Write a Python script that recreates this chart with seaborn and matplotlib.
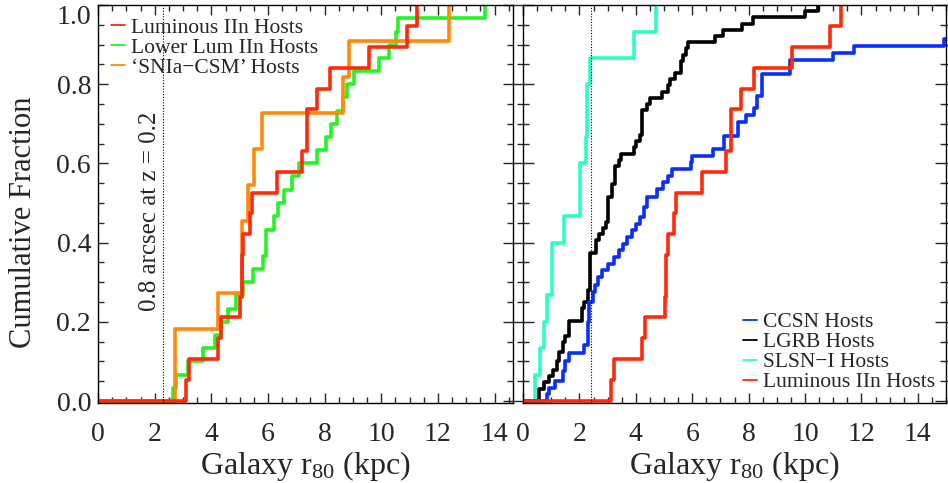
import matplotlib
matplotlib.use("Agg")
import matplotlib.pyplot as plt
from matplotlib.lines import Line2D
from matplotlib.ticker import MultipleLocator
import seaborn as sns

# Cumulative host-size distributions:
# r80 position (kpc) of each step and the cumulative fraction reached there
lum_iin_r80 = [3.11, 3.21, 4.23, 4.33, 5.02, 5.08, 5.13, 5.35, 5.44, 6.33, 7.19, 7.37,
               7.73, 8.20, 9.55, 10.89, 11.26]
lum_iin_frac = [0.053, 0.105, 0.158, 0.211, 0.263, 0.368, 0.421, 0.474, 0.526, 0.579,
                0.632, 0.737, 0.789, 0.842, 0.895, 0.947, 1.0]

low_iin_r80 = [2.64, 2.76, 3.17, 3.70, 4.14, 4.35, 4.58, 4.88, 5.11, 5.47, 5.82, 5.92,
               6.21, 6.37, 6.55, 6.85, 7.08, 7.73, 8.06, 8.24, 8.44, 8.65, 8.80, 9.02,
               9.91, 10.26, 10.51, 10.59, 13.65]
low_iin_frac = [0.033, 0.067, 0.1, 0.133, 0.167, 0.2, 0.233, 0.267, 0.3, 0.333, 0.367,
                0.433, 0.467, 0.5, 0.533, 0.567, 0.6, 0.633, 0.667, 0.7, 0.733, 0.767,
                0.8, 0.833, 0.867, 0.9, 0.933, 0.967, 1.0]

ia_csm_r80 = [2.70, 4.25, 5.07, 5.31, 5.51, 5.78, 8.65, 8.86, 12.38]
ia_csm_frac = [0.182, 0.273, 0.455, 0.545, 0.636, 0.727, 0.818, 0.909, 1.0]

slsn_r80 = [0.44, 0.61, 0.74, 0.84, 1.02, 1.44, 2.03, 2.23, 2.27, 2.37, 3.94, 4.71]
slsn_frac = [0.067, 0.133, 0.2, 0.267, 0.4, 0.467, 0.6, 0.667, 0.8, 0.867, 0.933, 1.0]

lgrb_r80 = [0.56, 0.74, 0.91, 1.05, 1.19, 1.29, 1.41, 1.50, 1.62, 2.09, 2.17, 2.29,
            2.39, 2.59, 2.70, 2.82, 2.96, 3.03, 3.15, 3.27, 3.39, 3.47, 3.94, 4.02,
            4.15, 4.23, 4.38, 4.51, 4.92, 5.15, 5.21, 5.39, 5.59, 5.67, 5.77, 5.86,
            6.80, 7.10, 7.75, 8.14, 10.01, 10.45]
lgrb_frac = [0.031, 0.047, 0.063, 0.078, 0.102, 0.125, 0.148, 0.164, 0.203, 0.234,
             0.25, 0.281, 0.375, 0.406, 0.422, 0.438, 0.453, 0.516, 0.547, 0.594,
             0.609, 0.625, 0.641, 0.656, 0.672, 0.734, 0.75, 0.766, 0.781, 0.797,
             0.813, 0.828, 0.859, 0.875, 0.891, 0.906, 0.922, 0.938, 0.953, 0.969,
             0.984, 1.0]

ccsn_r80 = [0.84, 0.91, 1.15, 1.41, 1.50, 1.62, 2.17, 2.29, 2.35, 2.47, 2.56, 2.67,
            2.80, 3.03, 3.21, 3.39, 3.55, 3.70, 3.88, 4.00, 4.14, 4.29, 4.38, 4.76,
            4.96, 5.15, 5.29, 5.94, 6.00, 6.73, 7.12, 7.61, 7.91, 8.18, 8.30, 8.47,
            9.48, 11.00, 11.74, 14.93]
ccsn_frac = [0.017, 0.033, 0.051, 0.075, 0.1, 0.121, 0.142, 0.2, 0.251, 0.276, 0.293,
             0.314, 0.33, 0.347, 0.364, 0.381, 0.397, 0.414, 0.431, 0.448, 0.465, 0.49,
             0.515, 0.536, 0.553, 0.569, 0.586, 0.603, 0.62, 0.636, 0.67, 0.705, 0.723,
             0.741, 0.771, 0.825, 0.86, 0.88, 0.896, 0.913]

# 0.8 arcsec at z = 0.2 marker (kpc) as drawn in each panel
res_limit_left = 2.30
res_limit_right = 2.42

y_ticks = [0.0, 0.2, 0.4, 0.6, 0.8, 1.0]
y_tick_labels = ["0.0", "0.2", "0.4", "0.6", "0.8", "1.0"]

RED = "#ff2a0a"
GREEN = "#22f522"
ORANGE = "#ff8a0a"
BLUE = "#0a2eff"
BLACK = "#000000"
CYAN = "#2affc6"

sns.set_style("ticks")
plt.rcParams["font.family"] = ["Liberation Serif", "DejaVu Serif"]
plt.rcParams["mathtext.fontset"] = "custom"
plt.rcParams["mathtext.rm"] = "Liberation Serif"
plt.rcParams["mathtext.it"] = "Liberation Serif"
plt.rcParams["axes.linewidth"] = 1.0


def draw_step(ax, r80, frac, color, x_end=None):
    xs = [-1.0] + list(r80)
    ys = [0.0] + list(frac)
    if x_end is not None:
        xs.append(x_end)
        ys.append(frac[-1])
    sns.lineplot(x=xs, y=ys, ax=ax, color=color, lw=2.6, drawstyle="steps-post",
                 estimator=None, sort=False, legend=False)


def style_axes(ax, xmax, inout_y=False):
    ax.set_xlim(0, xmax)
    ax.set_ylim(-0.005, 1.0)
    ax.xaxis.set_major_locator(MultipleLocator(2))
    ax.xaxis.set_minor_locator(MultipleLocator(0.5))
    ax.set_yticks(y_ticks)
    ax.yaxis.set_minor_locator(MultipleLocator(0.05))
    ax.tick_params(axis="x", which="both", direction="in", top=True, bottom=True,
                   labelsize=20, pad=14)
    ax.tick_params(axis="x", which="major", length=7, width=1)
    ax.tick_params(axis="x", which="minor", length=4, width=1)
    ydir = "inout" if inout_y else "in"
    ax.tick_params(axis="y", which="both", direction=ydir, left=True, right=True,
                   labelsize=20, pad=5)
    ax.tick_params(axis="y", which="major", length=16 if inout_y else 7, width=1)
    ax.tick_params(axis="y", which="minor", length=8 if inout_y else 4, width=1)
    ax.set_xlabel("Galaxy r$_{80}$ (kpc)", fontsize=23, labelpad=1)
    for s in ax.spines.values():
        s.set_visible(True)
        s.set_color("black")


fig = plt.figure(figsize=(9.48, 4.83), dpi=100)
ax1 = fig.add_axes([0.1034, 0.1656, 0.4378, 0.824])
ax2 = fig.add_axes([0.5517, 0.1656, 0.4462, 0.824])

# left panel
draw_step(ax1, low_iin_r80, low_iin_frac, GREEN)
draw_step(ax1, ia_csm_r80, ia_csm_frac, ORANGE)
draw_step(ax1, lum_iin_r80, lum_iin_frac, RED)
ax1.axvline(res_limit_left, color="black", ls=(0, (1, 1.5)), lw=0.8)
ax1.text(1.84, 0.48, "0.8 arcsec at z = 0.2", rotation=90, ha="center", va="center",
         fontsize=18)
style_axes(ax1, 14.65)
labels = ax1.set_yticklabels(y_tick_labels)
labels[-1].set_verticalalignment("top")
ax1.set_ylabel("Cumulative Fraction", fontsize=22)
ax1.yaxis.set_label_coords(-0.145, 0.455)

h1 = [Line2D([], [], color=RED, lw=1.3), Line2D([], [], color=GREEN, lw=1.3),
      Line2D([], [], color=ORANGE, lw=1.3)]
ax1.legend(h1, ["Luminous IIn Hosts", "Lower Lum IIn Hosts", "\u2018SNIa\u2212CSM\u2019 Hosts"],
           loc="upper left", bbox_to_anchor=(0.005, 0.995), frameon=False, fontsize=15.5,
           handlelength=0.65, handletextpad=0.3, labelspacing=0.0, borderpad=0.3,
           borderaxespad=0.2)

# right panel
draw_step(ax2, slsn_r80, slsn_frac, CYAN)
draw_step(ax2, lgrb_r80, lgrb_frac, BLACK)
draw_step(ax2, ccsn_r80, ccsn_frac, BLUE, x_end=16)
draw_step(ax2, lum_iin_r80, lum_iin_frac, RED)
ax2.axvline(res_limit_right, color="black", ls=(0, (1, 1.5)), lw=0.8)
style_axes(ax2, 15, inout_y=True)
ax2.tick_params(axis="y", labelleft=False)
ax2.set_ylabel("")

h2 = [Line2D([], [], color=BLUE, lw=1.3), Line2D([], [], color=BLACK, lw=1.3),
      Line2D([], [], color=CYAN, lw=1.3), Line2D([], [], color=RED, lw=1.3)]
ax2.legend(h2, ["CCSN Hosts", "LGRB Hosts", "SLSN\u2212I Hosts", "Luminous IIn Hosts"],
           loc="lower right", bbox_to_anchor=(1.0, 0.0), frameon=False, fontsize=15.5,
           handlelength=0.65, handletextpad=0.3, labelspacing=0.0, borderpad=0.3,
           borderaxespad=0.2)

fig.savefig("out.png", dpi=100)
